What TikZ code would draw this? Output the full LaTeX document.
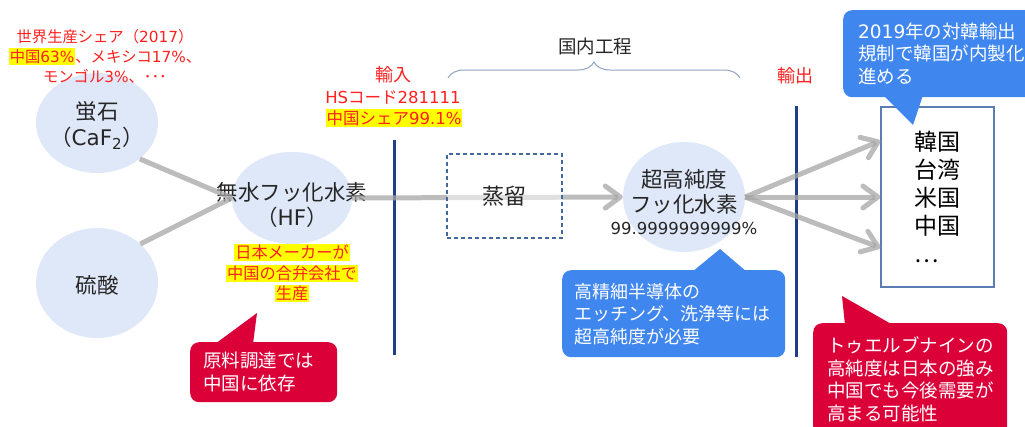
\documentclass[tikz,border=0pt]{standalone}
\usepackage{fontspec}
\setmainfont{Noto Sans CJK JP}
\newfontfamily\lat{DejaVu Sans}
\usetikzlibrary{shapes.geometric,arrows.meta,decorations.pathreplacing,calc}
\definecolor{blobblue}{HTML}{DFE8F8}
\definecolor{flowgray}{HTML}{A6A6A6}
\definecolor{navyline}{HTML}{1F3F8A}
\definecolor{alertred}{HTML}{FF2020}
\definecolor{hlyellow}{HTML}{FFFF00}
\definecolor{txtdark}{HTML}{262626}
\definecolor{boxblue}{HTML}{5B7DB1}
\definecolor{dashblue}{HTML}{45689F}
\definecolor{bracegray}{HTML}{8FA5C3}
\definecolor{callblue}{HTML}{3F86EE}
\definecolor{callred}{HTML}{DC0039}
\newcommand{\hilite}[1]{{\setlength{\fboxsep}{1pt}\colorbox{hlyellow}{#1}}}
\begin{document}
\begin{tikzpicture}[x=1pt,y=-1pt,
    blob/.style={ellipse,fill=blobblue,inner sep=0pt},
    blobtext/.style={align=center,inner sep=0pt,text=txtdark,font=\fontsize{21.5}{25}\selectfont},
    flowline/.style={line width=5pt,draw=flowgray,draw opacity=0.75},
    flowarrow/.style={flowline,-{Straight Barb[round,length=15pt,width=22pt]}},
    boundary/.style={line width=3pt,draw=navyline},
    redlabel/.style={text=alertred,align=center,inner sep=0pt},
    bubble/.style={anchor=north west,rounded corners=9pt,text=white,align=left,inner ysep=0pt,font=\fontsize{18.5}{22.5}\selectfont}]
  \useasboundingbox (0,0) rectangle (1025,426);
  \clip (0,0) rectangle (1025,426);
  \fill[white] (0,0) rectangle (1025,426);

  % materials and products
  \node[blob,minimum width=122pt,minimum height=100pt] (fluor) at (97,123) {};
  \node[blobtext] (fluortxt) at (97,125) {蛍石\\[1pt]（{\lat CaF\textsubscript{2}}）};
  \node[blob,minimum width=122pt,minimum height=110pt] (sulf) at (97,283) {};
  \node[blobtext] (sulftxt) at (97,285) {硫酸};
  \node[blob,minimum width=120pt,minimum height=92pt] (hf) at (292,198) {};
  \node[blobtext] (hftxt) at (292,205) {無水フッ化水素\\（{\lat HF}）};
  \node[blob,minimum width=122pt,minimum height=110pt] (hpf) at (684,197) {};
  \node[blobtext] (hpftxt) at (684,202) {超高純度\\フッ化水素\\[-3pt]{\lat\fontsize{16.5}{19}\selectfont 99.9999999999\%}};
  \node[draw=boxblue,line width=1.2pt,minimum width=113pt,minimum height=180pt,align=left,
    font=\fontsize{23}{28}\selectfont,text=black] (countries) at (937.5,197) {韓国\\台湾\\米国\\中国\\…};

  % labels
  \node[redlabel,anchor=north,font=\fontsize{15.3}{20}\selectfont] (worldshare) at (105,29)
    {世界生産シェア（{\lat 2017}）\\\hilite{中国{\lat 63\%}}、メキシコ{\lat 17\%}、\\モンゴル{\lat 3\%}、･･･};
  \node[redlabel,font=\fontsize{18}{22}\selectfont] (importlbl) at (393,75) {輸入};
  \node[redlabel,font=\fontsize{16.5}{20}\selectfont] (hscode) at (393,97) {{\lat HS}コード{\lat 281111}};
  \node[redlabel,font=\fontsize{16.5}{20}\selectfont] (cnshare) at (394,118) {\hilite{中国シェア{\lat 99.1\%}}};
  \node[redlabel,font=\fontsize{18}{22}\selectfont] (exportlbl) at (795,76) {輸出};
  \node[inner sep=0pt,text=txtdark,font=\fontsize{18.5}{22}\selectfont] (domestic) at (595,46) {国内工程};
  \node[redlabel,font=\fontsize{16.2}{20.5}\selectfont] (jvnote) at (292,273)
    {\hilite{日本メーカーが}\\\hilite{中国の合弁会社で}\\\hilite{生産}};
  \draw[bracegray,line width=1pt,decorate,decoration={brace,amplitude=16pt}] (448,78) -- (740,78);

  % import / export borders
  \draw[boundary] (394,140) -- (394,355);
  \draw[boundary] (796,106) -- (796,357);

  % flows
  \draw[flowline] (fluor.-40) -- (hf.west);
  \draw[flowline] (sulf.42) -- (hf.west);
  \draw[flowarrow] (hf.east) -- (hpf.west);
  \draw[flowarrow] (hpf.east) -- ($(countries.north west)!0.19!(countries.south west)$);
  \draw[flowarrow] (hpf.east) -- (countries.west);
  \draw[flowarrow] (hpf.east) -- ($(countries.north west)!0.78!(countries.south west)$);
  \node[draw=dashblue,line width=1.5pt,dash pattern=on 4pt off 3pt,fill=white,fill opacity=0.55,text opacity=1,
    minimum width=115pt,minimum height=84pt,text=txtdark,font=\fontsize{22}{26}\selectfont] (distill) at (504.5,196) {蒸留};

  % callouts
  \node[bubble,fill=callred,minimum width=147pt,minimum height=60pt,text width=121pt,inner xsep=13pt] (sourcenote) at (190,342)
    {原料調達では\\中国に依存};
  \fill[callred] (215,344) -- (257,313) -- (253,344) -- cycle;
  \node[bubble,fill=callblue,minimum width=223pt,minimum height=87pt,text width=199pt,inner xsep=12pt,
    font=\fontsize{18}{22.5}\selectfont] (etchnote) at (562,270)
    {高精細半導体の\\エッチング、洗浄等には\\超高純度が必要};
  \fill[callblue] (692,272) -- (720,249) -- (747,272) -- cycle;
  \node[bubble,fill=callred,minimum width=194pt,minimum height=112pt,text width=166pt,inner xsep=14pt] (purenote) at (813,323)
    {トゥエルブナインの\\高純度は日本の強み\\中国でも今後需要が\\高まる可能性};
  \fill[callred] (845,325) -- (842,296) -- (893,325) -- cycle;
  \node[bubble,fill=callblue,minimum width=215pt,minimum height=87pt,text width=185pt,inner xsep=15pt] (kornote) at (843,10)
    {{\lat 2019}年の対韓輸出\\規制で韓国が内製化\\進める};
  \fill[callblue] (883,95) -- (913,125) -- (923,95) -- cycle;
\end{tikzpicture}
\end{document}
